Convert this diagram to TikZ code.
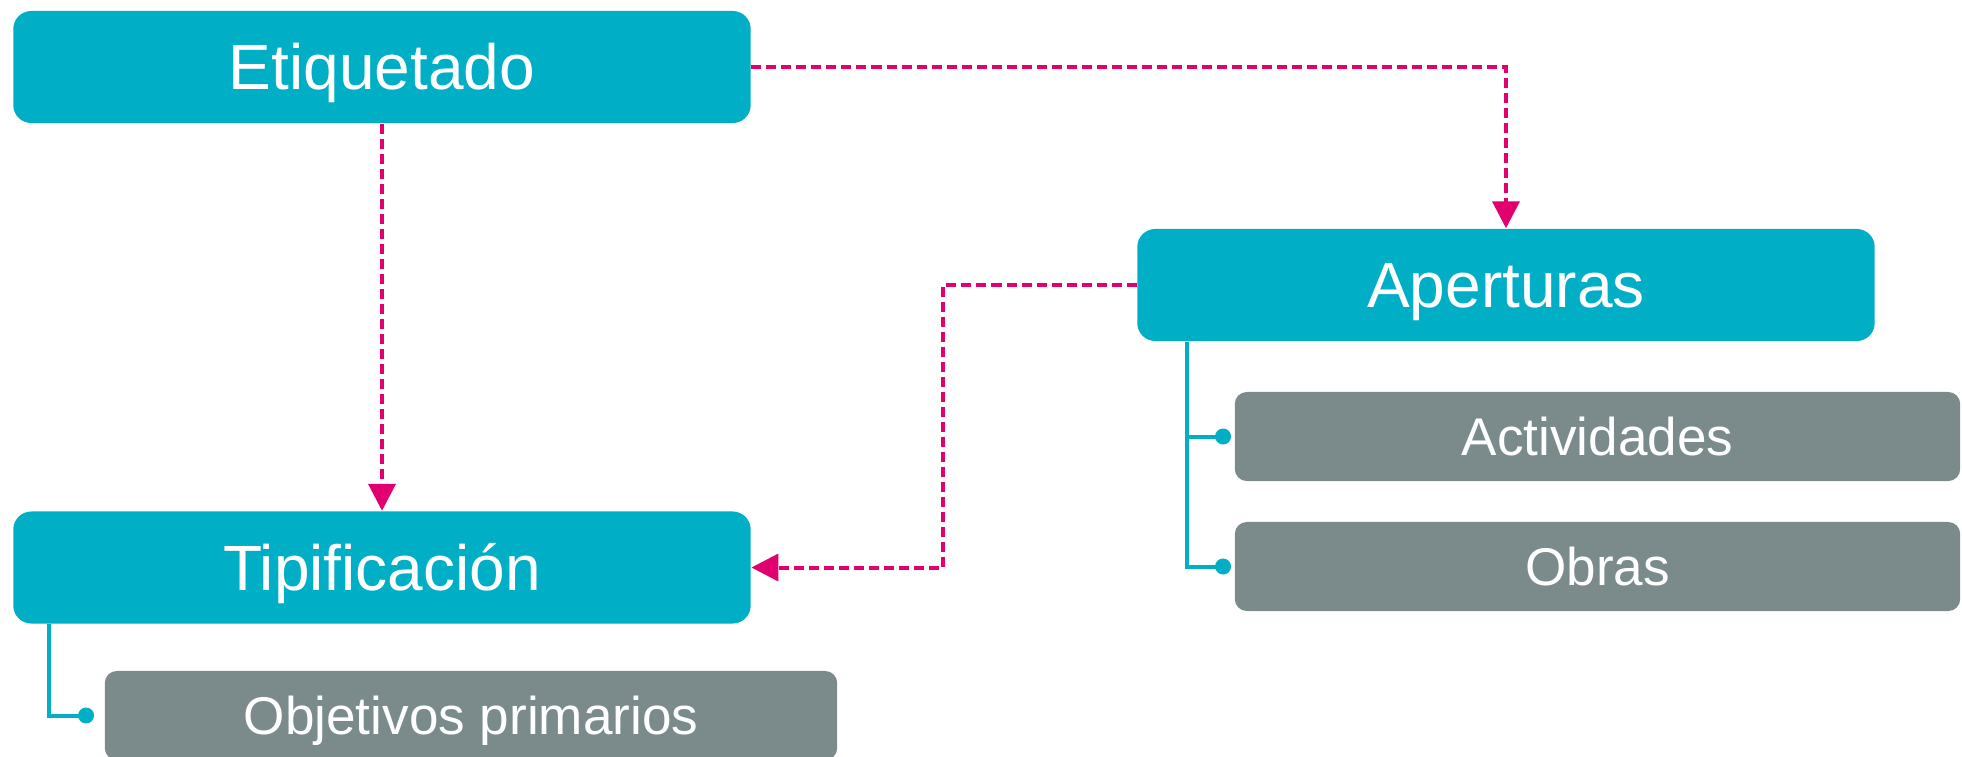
\documentclass[tikz,border=0pt]{standalone}
\usepackage{fontspec}
\setmainfont{Liberation Sans}[Ligatures=CommonOff]
\usepackage{tikz}
\usetikzlibrary{positioning, arrows.meta}
\definecolor{tealbox}{RGB}{0,174,197}
\definecolor{graybox}{RGB}{123,139,140}
\definecolor{pinkline}{RGB}{226,0,112}

\begin{document}
\begin{tikzpicture}[x=0.01cm, y=-0.01cm,
    mainbox/.style={fill=tealbox, text=white, rounded corners=0.18cm, minimum width=7.37cm,
        minimum height=1.12cm, inner sep=0pt, font=\fontsize{18.2}{20}\selectfont,
        text height=13pt, text depth=0pt},
    subbox/.style={fill=graybox, text=white, rounded corners=0.12cm, minimum width=7.25cm,
        minimum height=0.89cm, inner sep=0pt, font=\fontsize{15.1}{18}\selectfont,
        text height=10.8pt, text depth=0pt},
    flow/.style={pinkline, line width=0.04cm, dash pattern=on 0.1cm off 0.05cm,
        -{Triangle[length=0.27cm, width=0.27cm]}},
    tree/.style={tealbox, line width=0.04cm}]
    \useasboundingbox (0,0) rectangle (1962,756);
    \node[mainbox] (etiq) at (382,67) {Etiquetado};
    \node[mainbox] (aper) at (1506,285) {Aperturas};
    \node[mainbox] (tipi) at (382,567.5) {Tipificación};
    \node[subbox] (activ) at (1597.5,436.5) {Actividades};
    \node[subbox] (obras) at (1597.5,566.5) {Obras};
    \node[subbox, minimum width=7.32cm] (objet) at (471,715.5) {Objetivos primarios};
    \coordinate (bend) at (943,285);
    \draw [flow] (etiq.east) -| (aper.north);
    \draw [flow] (etiq.south) -- (tipi.north);
    \draw [flow] (aper.west) -- (bend) |- (tipi.east);
    \foreach \child in {activ, obras}{
        \draw [tree] ([xshift=0.5cm]aper.south west) |- ([xshift=-0.11cm]\child.west);
        \fill [tealbox] ([xshift=-0.11cm]\child.west) circle (0.08cm);
    }
    \draw [tree] ([xshift=0.36cm]tipi.south west) |- ([xshift=-0.18cm]objet.west);
    \fill [tealbox] ([xshift=-0.18cm]objet.west) circle (0.08cm);
\end{tikzpicture}
\end{document}
